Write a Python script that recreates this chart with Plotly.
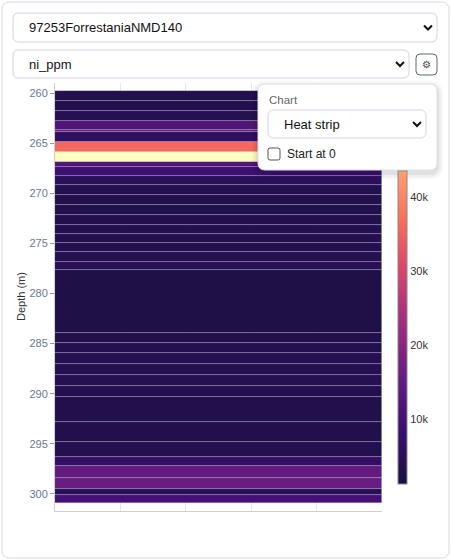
import plotly.graph_objects as go

# depth intervals (m) and Ni values (ppm)
depth_from = [259.8, 260.8, 261.8, 262.8, 263.7, 263.9, 264.9, 265.9, 266.9, 267.4,
              268.3, 269.2, 270.2, 271.2, 272.2, 273.2, 274.1, 275.0, 275.9, 276.9,
              277.7, 283.9, 284.9, 285.9, 287.0, 288.1, 289.2, 290.3, 292.8, 294.8,
              296.3, 297.2, 298.4, 299.5, 300.1]
depth_to = depth_from[1:] + [300.9]
ni_ppm = [2500, 2800, 3500, 12000, 16000, 6000, 36000, 51000, 12000, 9000,
          5000, 3000, 2500, 2500, 2800, 3000, 3200, 3000, 3500, 3800,
          2000, 2600, 3000, 3500, 3300, 3500, 3000, 2500, 2800, 3000,
          6500, 15000, 16000, 4000, 10000]
cb_ticks = [10000, 20000, 30000, 40000]
cb_labels = ["10k", "20k", "30k", "40k"]

W, H = 451, 560
L, R, T, B = 55, 382, 83, 511


def px(x):
    return (x - L) / (R - L)


def py(y):
    return (B - y) / (B - T)


mids = [(a + b) / 2 for a, b in zip(depth_from, depth_to)]
widths = [b - a for a, b in zip(depth_from, depth_to)]

CMIN, CMAX = 1250, 51000
scale = [[0, "#1c1044"], [0.15, "#3b0f70"], [0.3, "#6a1c81"], [0.45, "#a3307e"],
         [0.6, "#de4968"], [0.72, "#f7705c"], [0.85, "#fea16e"], [1, "#fcfdbf"]]
# the popup hides the top of the colour bar: show only the part below it
cut = 0.85
cb_scale = [[s / cut, c] for s, c in scale if s <= cut]
cb_top = CMIN + cut * (CMAX - CMIN)

fig = go.Figure()
fig.add_trace(go.Bar(
    y=mids, x=[5] * len(mids), width=widths, orientation="h", base=0,
    marker=dict(color=ni_ppm, colorscale=scale, cmin=CMIN, cmax=CMAX, showscale=False,
                line=dict(color="rgba(200,190,230,0.4)", width=0.7)),
    hoverinfo="skip", showlegend=False))
fig.add_trace(go.Scatter(
    x=[None], y=[None], mode="markers", hoverinfo="skip", showlegend=False,
    marker=dict(color=[CMIN], colorscale=cb_scale, cmin=CMIN, cmax=cb_top, showscale=True,
                colorbar=dict(thickness=9, lenmode="pixels", len=484 - 171,
                              x=px(398), xanchor="left", y=py(484), yanchor="bottom",
                              outlinecolor="#888", outlinewidth=1, xpad=0, ypad=0,
                              tickvals=cb_ticks, ticktext=cb_labels, ticks="",
                              tickfont=dict(size=11, color="#333")))))

font = "Liberation Sans, Arial, sans-serif"
shapes, ann = [], []


def box(x0, y0, x1, y1, line="#cfd4dc", fill="white", r=6, width=1):
    path = (f"M {px(x0+r)},{py(y0)} L {px(x1-r)},{py(y0)} Q {px(x1)},{py(y0)} {px(x1)},{py(y0+r)} "
            f"L {px(x1)},{py(y1-r)} Q {px(x1)},{py(y1)} {px(x1-r)},{py(y1)} "
            f"L {px(x0+r)},{py(y1)} Q {px(x0)},{py(y1)} {px(x0)},{py(y1-r)} "
            f"L {px(x0)},{py(y0+r)} Q {px(x0)},{py(y0)} {px(x0+r)},{py(y0)} Z")
    shapes.append(dict(type="path", path=path, xref="paper", yref="paper",
                       line=dict(color=line, width=width), fillcolor=fill, layer="above"))


def chevron(cx, cy):
    path = f"M {px(cx-4)},{py(cy-2)} L {px(cx)},{py(cy+2)} L {px(cx+4)},{py(cy-2)}"
    shapes.append(dict(type="path", path=path, xref="paper", yref="paper",
                       line=dict(color="#111", width=2), layer="above"))


def text(x, y, s, size=13, color="#111"):
    ann.append(dict(x=px(x), y=py(y), xref="paper", yref="paper", text=s, showarrow=False,
                    xanchor="left", yanchor="middle", borderpad=0,
                    font=dict(size=size, color=color, family=font)))


# card
box(2, 2, 449, 558, line="#d3dae4", fill="rgba(0,0,0,0)", r=8)
# selects
box(13, 13, 437, 42)
text(28, 27.5, "97253ForrestaniaNMD140")
chevron(428, 27.5)
box(13, 50, 409, 78)
text(28, 64, "ni_ppm")
chevron(400, 64)
box(416, 54, 437, 75, line="#5a6478", r=4)
text(421, 64.5, "⚙", size=10, color="#444")
# popup with shadow
for i, a in enumerate([0.03, 0.04, 0.05]):
    d = 6 - 2 * i
    box(258 - d, 84 - d + 3, 437 + d, 170 + d + 3, line="rgba(0,0,0,0)", fill=f"rgba(0,0,0,{a})", r=8 + d)
box(258, 84, 437, 170, line="#dde1e7", r=7)
text(268, 100, "Chart", size=11.5, color="#666")
box(268, 110, 426, 138, line="#cfd4dc", r=6)
text(283, 124, "Heat strip", size=13)
chevron(417, 124)
box(268, 148, 280, 160, line="#555", r=2)
text(286, 154, "Start at 0", size=12, color="#222")

# y axis title
ann.append(dict(x=px(21), y=py(297), xref="paper", yref="paper", text="Depth (m)",
                showarrow=False, textangle=-90, xanchor="center", yanchor="middle",
                font=dict(size=11, color="#333", family=font)))

fig.update_layout(
    width=W, height=H, margin=dict(l=L, r=W - R, t=T, b=H - B, autoexpand=False),
    paper_bgcolor="white", plot_bgcolor="white",
    font=dict(family=font),
    xaxis=dict(range=[0, 5], tickvals=[0, 1, 2, 3, 4], showticklabels=False, ticks="",
               showgrid=True, gridcolor="#e6e6e6", zeroline=False, automargin=False,
               showline=True, linecolor="#cfcfcf", fixedrange=True),
    yaxis=dict(range=[301.7, 259.0], tickvals=[260, 265, 270, 275, 280, 285, 290, 295, 300],
               ticks="outside", ticklen=4, tickcolor="#999", showgrid=False, zeroline=False,
               showline=True, linecolor="#cfcfcf", automargin=False,
               tickfont=dict(size=11, color="#6b7890")),
    shapes=shapes, annotations=ann, bargap=0,
)

fig.write_html("out.html", config={"displayModeBar": False},
               post_script="document.body.style.margin='0';document.body.style.overflow='hidden';")
